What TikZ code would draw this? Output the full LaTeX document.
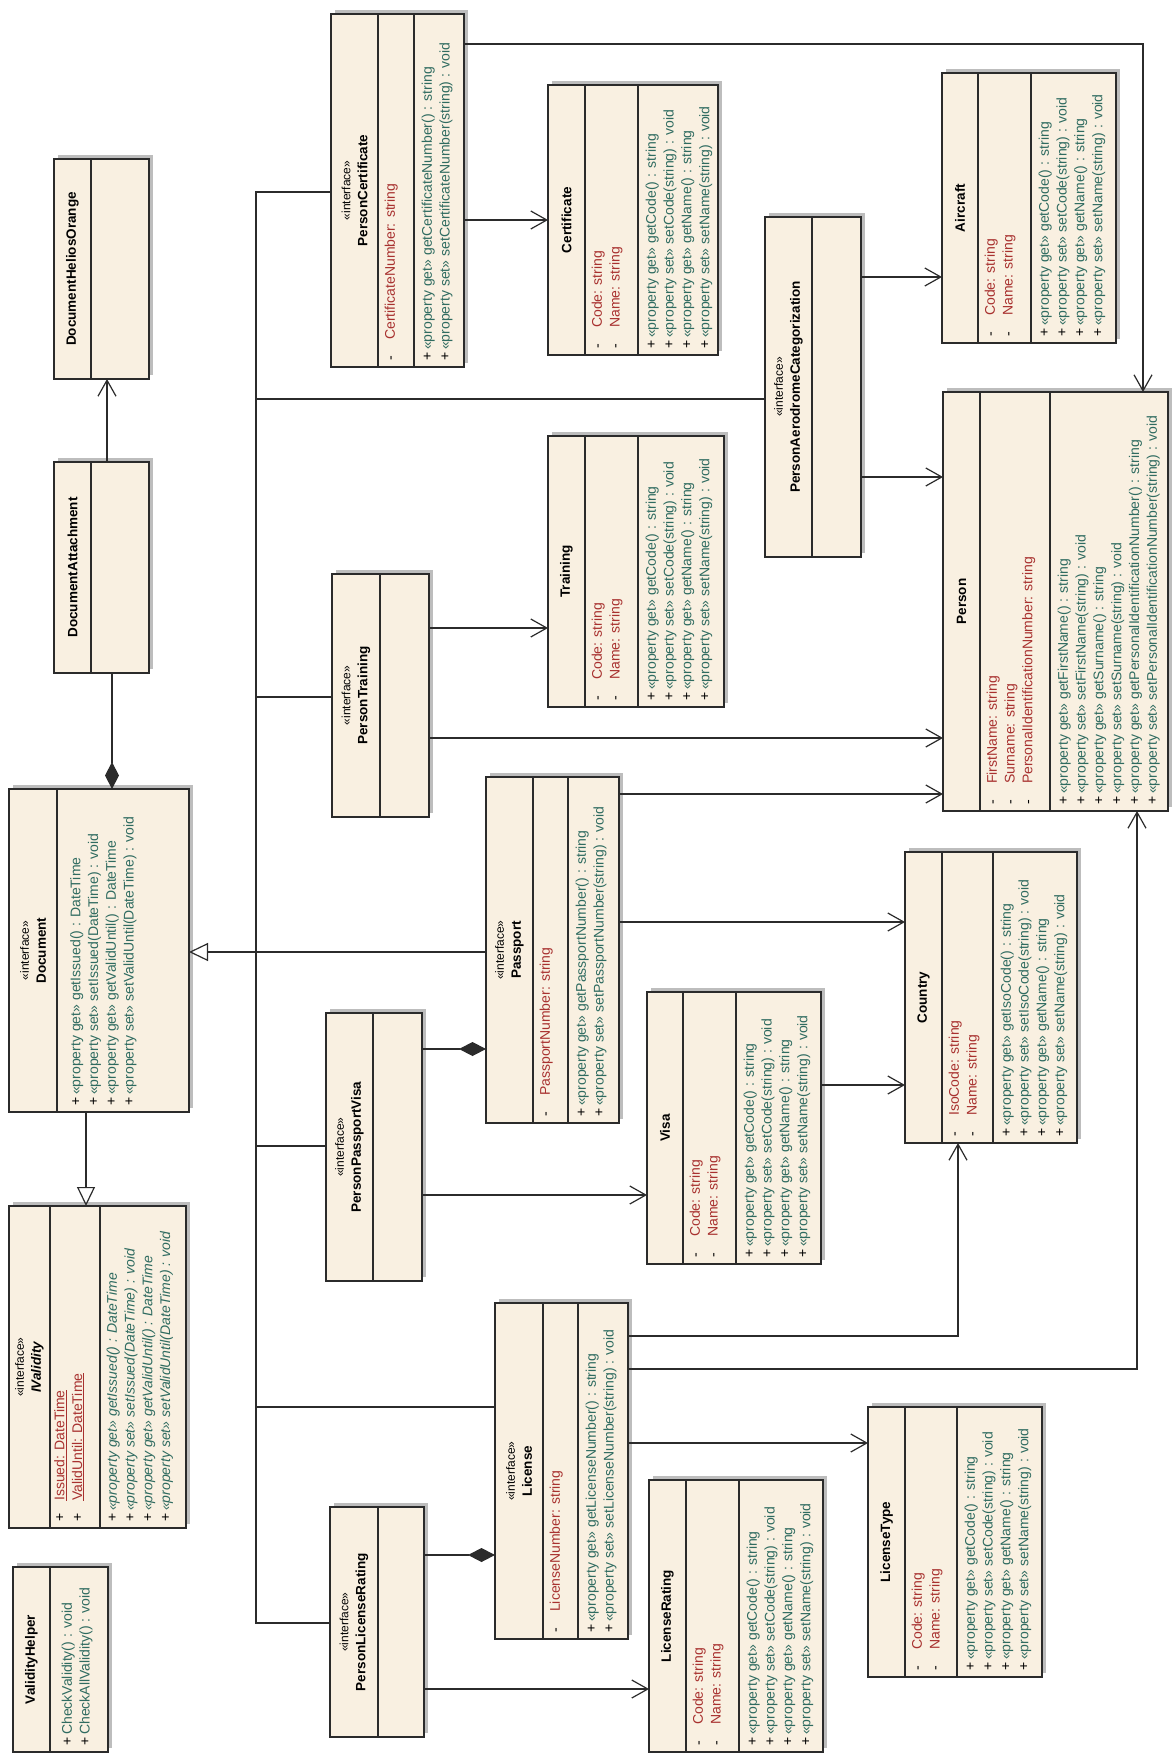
\documentclass[tikz,border=0pt]{standalone}
\usepackage{fontspec}
\setmainfont{Liberation Sans}
\usetikzlibrary{arrows.meta,shadows}
\definecolor{UMLFill}{HTML}{F9F0E1}
\definecolor{UMLLine}{HTML}{2B2B2B}
\definecolor{UMLShadow}{HTML}{BDBDBD}
\definecolor{UMLAttr}{HTML}{A8312F}
\definecolor{UMLOp}{HTML}{2F6B60}
\newcommand{\stereo}{{\fontsize{12}{17}\selectfont «interface»}}
\newcommand{\attr}[2][-]{\makebox[21pt][l]{\textcolor{black}{#1}}#2}
\newcommand{\op}[1]{\makebox[11pt][l]{\textcolor{black}{+}}#1}
\newcommand{\classbox}[5]{%
  \pgfmathsetmacro{\clsw}{#4-#2}%
  \pgfmathsetmacro{\clsh}{#5-#3}%
  \node[umlclass,minimum width=\clsw pt,minimum height=\clsh pt] (#1) at (#2,#3) {};}
\newcommand{\compline}[2]{\draw[umlborder] (#1.north -| #2,0) -- (#1.south -| #2,0);}
\tikzset{
  umlclass/.style={
    draw=UMLLine,
    fill=UMLFill,
    line width=1.3pt,
    rectangle,
    inner sep=0pt,
    outer sep=0pt,
    anchor=north west,
    drop shadow={shadow xshift=4pt,shadow yshift=4pt,fill=UMLShadow,draw=none,opacity=1}
  },
  umlborder/.style={draw=UMLLine,line width=1.3pt},
  umlhead/.style={rotate=90,align=center,inner sep=0pt,font=\fontsize{13.5}{17}\selectfont},
  umlattrs/.style={
    rotate=90,
    anchor=north west,
    align=left,
    inner sep=0pt,
    text=UMLAttr,
    font=\fontsize{14}{17.8}\selectfont
  },
  umlops/.style={umlattrs,text=UMLOp},
  umlconn/.style={draw=UMLLine,line width=1.2pt},
  umlassoc/.style={umlconn,-{Straight Barb[length=16pt,width=18pt]}},
  umlinherit/.style={umlconn,-{Triangle[length=19pt,width=18pt,fill=white]}},
  umlcompose/.style={umlconn,-{Diamond[length=27pt,width=14pt]}}
}

\begin{document}
\begin{tikzpicture}[x=1pt,y=-1pt]
  \useasboundingbox[fill=white] (0,0) rectangle (1171,1755);

  % document side
  \classbox{helios}{54}{159}{149}{379}\compline{helios}{91}
  \classbox{attach}{54}{462}{149}{673}\compline{attach}{91}
  \classbox{document}{9}{789}{189}{1112}\compline{document}{57}
  \classbox{ivalidity}{9}{1206}{186}{1528}\compline{ivalidity}{50}\compline{ivalidity}{100}
  \classbox{helper}{13}{1567}{108}{1752}\compline{helper}{50}

  % person interfaces
  \classbox{pcert}{331}{14}{464}{367}\compline{pcert}{378}\compline{pcert}{414}
  \classbox{ptrain}{332}{574}{429}{817}\compline{ptrain}{380}
  \classbox{passport}{486}{777}{619}{1123}\compline{passport}{533}\compline{passport}{568}
  \classbox{ppv}{326}{1013}{422}{1281}\compline{ppv}{373}
  \classbox{license}{495}{1303}{628}{1639}\compline{license}{543}\compline{license}{578}
  \classbox{plr}{330}{1507}{424}{1737}\compline{plr}{378}
  \classbox{aero}{765}{217}{861}{557}\compline{aero}{812}

  % plain classes
  \classbox{cert}{548}{85}{718}{355}\compline{cert}{585}\compline{cert}{638}
  \classbox{training}{548}{436}{724}{707}\compline{training}{585}\compline{training}{638}
  \classbox{visa}{647}{992}{821}{1264}\compline{visa}{683}\compline{visa}{736}
  \classbox{lrating}{649}{1480}{823}{1752}\compline{lrating}{686}\compline{lrating}{739}
  \classbox{aircraft}{942}{73}{1116}{343}\compline{aircraft}{978}\compline{aircraft}{1031}
  \classbox{person}{943}{392}{1168}{811}\compline{person}{980}\compline{person}{1050}
  \classbox{country}{905}{852}{1077}{1143}\compline{country}{942}\compline{country}{993}
  \classbox{ltype}{868}{1407}{1042}{1677}\compline{ltype}{905}\compline{ltype}{957}

  % headers
  \node[umlhead] (helios-h) at (72.5,269) {\textbf{DocumentHeliosOrange}};
  \node[umlhead] (attach-h) at (72.5,567.5) {\textbf{DocumentAttachment}};
  \node[umlhead] (document-h) at (33,950.5) {\stereo\\\textbf{Document}};
  \node[umlhead] (ivalidity-h) at (29.5,1367) {\stereo\\\textbf{\textit{IValidity}}};
  \node[umlhead] (helper-h) at (31.5,1659.5) {\textbf{ValidityHelper}};
  \node[umlhead] (pcert-h) at (354.5,190.5) {\stereo\\\textbf{PersonCertificate}};
  \node[umlhead] (ptrain-h) at (356,695.5) {\stereo\\\textbf{PersonTraining}};
  \node[umlhead] (passport-h) at (509.5,950) {\stereo\\\textbf{Passport}};
  \node[umlhead] (ppv-h) at (349.5,1147) {\stereo\\\textbf{PersonPassportVisa}};
  \node[umlhead] (license-h) at (519,1471) {\stereo\\\textbf{License}};
  \node[umlhead] (plr-h) at (354,1622) {\stereo\\\textbf{PersonLicenseRating}};
  \node[umlhead] (aero-h) at (788.5,387) {\stereo\\\textbf{PersonAerodromeCategorization}};
  \node[umlhead] (cert-h) at (566.5,220) {\textbf{Certificate}};
  \node[umlhead] (training-h) at (566.5,571.5) {\textbf{Training}};
  \node[umlhead] (visa-h) at (665,1128) {\textbf{Visa}};
  \node[umlhead] (lrating-h) at (667.5,1616) {\textbf{LicenseRating}};
  \node[umlhead] (aircraft-h) at (960,208) {\textbf{Aircraft}};
  \node[umlhead] (person-h) at (961.5,601.5) {\textbf{Person}};
  \node[umlhead] (country-h) at (923.5,997.5) {\textbf{Country}};
  \node[umlhead] (ltype-h) at (886.5,1542) {\textbf{LicenseType}};

  % attributes and operations
  \node[umlops] (document-o) at (70,1106) {\op{«property get» getIssued() : DateTime}\\\op{«property set» setIssued(DateTime) : void}\\\op{«property get» getValidUntil() : DateTime}\\\op{«property set» setValidUntil(DateTime) : void}};
  \node[umlattrs] (ivalidity-a) at (54,1522) {\attr[+]{\underline{Issued: DateTime}}\\\attr[+]{\underline{ValidUntil: DateTime}}};
  \node[umlops] (ivalidity-o) at (106.5,1522) {\op{\textit{«property get» getIssued() : DateTime}}\\\op{\textit{«property set» setIssued(DateTime) : void}}\\\op{\textit{«property get» getValidUntil() : DateTime}}\\\op{\textit{«property set» setValidUntil(DateTime) : void}}};
  \node[umlops] (helper-o) at (61.5,1746) {\op{CheckValidity() : void}\\\op{CheckAllValidity() : void}};
  \node[umlattrs] (pcert-a) at (384.5,361) {\attr{CertificateNumber: string}};
  \node[umlops] (pcert-o) at (421.5,361) {\op{«property get» getCertificateNumber() : string}\\\op{«property set» setCertificateNumber(string) : void}};
  \node[umlattrs] (passport-a) at (539.5,1117) {\attr{PassportNumber: string}};
  \node[umlops] (passport-o) at (575.5,1117) {\op{«property get» getPassportNumber() : string}\\\op{«property set» setPassportNumber(string) : void}};
  \node[umlattrs] (license-a) at (549.5,1633) {\attr{LicenseNumber: string}};
  \node[umlops] (license-o) at (585.5,1633) {\op{«property get» getLicenseNumber() : string}\\\op{«property set» setLicenseNumber(string) : void}};
  \node[umlattrs] (cert-a) at (591.5,349) {\attr{Code: string}\\\attr{Name: string}};
  \node[umlops] (cert-o) at (645.5,349) {\op{«property get» getCode() : string}\\\op{«property set» setCode(string) : void}\\\op{«property get» getName() : string}\\\op{«property set» setName(string) : void}};
  \node[umlattrs] (training-a) at (591.5,701) {\attr{Code: string}\\\attr{Name: string}};
  \node[umlops] (training-o) at (645.5,701) {\op{«property get» getCode() : string}\\\op{«property set» setCode(string) : void}\\\op{«property get» getName() : string}\\\op{«property set» setName(string) : void}};
  \node[umlattrs] (visa-a) at (689.5,1258) {\attr{Code: string}\\\attr{Name: string}};
  \node[umlops] (visa-o) at (743.5,1258) {\op{«property get» getCode() : string}\\\op{«property set» setCode(string) : void}\\\op{«property get» getName() : string}\\\op{«property set» setName(string) : void}};
  \node[umlattrs] (lrating-a) at (692.5,1746) {\attr{Code: string}\\\attr{Name: string}};
  \node[umlops] (lrating-o) at (746.5,1746) {\op{«property get» getCode() : string}\\\op{«property set» setCode(string) : void}\\\op{«property get» getName() : string}\\\op{«property set» setName(string) : void}};
  \node[umlattrs] (aircraft-a) at (984.5,337) {\attr{Code: string}\\\attr{Name: string}};
  \node[umlops] (aircraft-o) at (1038.5,337) {\op{«property get» getCode() : string}\\\op{«property set» setCode(string) : void}\\\op{«property get» getName() : string}\\\op{«property set» setName(string) : void}};
  \node[umlattrs] (person-a) at (986.5,805) {\attr{FirstName: string}\\\attr{Surname: string}\\\attr{PersonalIdentificationNumber: string}};
  \node[umlops] (person-o) at (1057.5,805) {\op{«property get» getFirstName() : string}\\\op{«property set» setFirstName(string) : void}\\\op{«property get» getSurname() : string}\\\op{«property set» setSurname(string) : void}\\\op{«property get» getPersonalIdentificationNumber() : string}\\\op{«property set» setPersonalIdentificationNumber(string) : void}};
  \node[umlattrs] (country-a) at (948.5,1137) {\attr{IsoCode: string}\\\attr{Name: string}};
  \node[umlops] (country-o) at (1000.5,1137) {\op{«property get» getIsoCode() : string}\\\op{«property set» setIsoCode(string) : void}\\\op{«property get» getName() : string}\\\op{«property set» setName(string) : void}};
  \node[umlattrs] (ltype-a) at (911.5,1671) {\attr{Code: string}\\\attr{Name: string}};
  \node[umlops] (ltype-o) at (964.5,1671) {\op{«property get» getCode() : string}\\\op{«property set» setCode(string) : void}\\\op{«property get» getName() : string}\\\op{«property set» setName(string) : void}};

  % generalization tree into Document
  \coordinate (bus) at (256,952);
  \draw[umlinherit] (passport.west |- bus) -- (document.east |- bus);
  \draw[umlconn] (pcert.west |- 0,192) -| (bus);
  \draw[umlconn] (aero.west |- 0,399) -| (bus);
  \draw[umlconn] (ptrain.west |- 0,697) -| (bus);
  \draw[umlconn] (ppv.west |- 0,1146) -| (bus);
  \draw[umlconn] (license.west |- 0,1407) -| (bus);
  \draw[umlconn] (plr.west |- 0,1623) -| (bus);
  \draw[umlinherit] (document.south -| 86,0) -- (ivalidity.north -| 86,0);

  % compositions
  \draw[umlcompose] (attach.south -| 112,0) -- (document.north -| 112,0);
  \draw[umlcompose] (ppv.east |- 0,1049) -- (passport.west |- 0,1049);
  \draw[umlcompose] (plr.east |- 0,1555) -- (license.west |- 0,1555);

  % associations
  \draw[umlassoc] (attach.north -| 107,0) -- (helios.south -| 107,0);
  \draw[umlassoc] (pcert.east |- 0,220) -- (cert.west |- 0,220);
  \draw[umlassoc] (pcert.east |- 0,44) -| (person.north -| 1143,0);
  \draw[umlassoc] (aero.east |- 0,277) -- (aircraft.west |- 0,277);
  \draw[umlassoc] (aero.east |- 0,477) -- (person.west |- 0,477);
  \draw[umlassoc] (ptrain.east |- 0,628) -- (training.west |- 0,628);
  \draw[umlassoc] (ptrain.east |- 0,738) -- (person.west |- 0,738);
  \draw[umlassoc] (passport.east |- 0,794) -- (person.west |- 0,794);
  \draw[umlassoc] (passport.east |- 0,922) -- (country.west |- 0,922);
  \draw[umlassoc] (visa.east |- 0,1085) -- (country.west |- 0,1085);
  \draw[umlassoc] (ppv.east |- 0,1195) -- (visa.west |- 0,1195);
  \draw[umlassoc] (license.east |- 0,1336) -| (country.south -| 958,0);
  \draw[umlassoc] (license.east |- 0,1369) -| (person.south -| 1137,0);
  \draw[umlassoc] (license.east |- 0,1443) -- (ltype.west |- 0,1443);
  \draw[umlassoc] (plr.east |- 0,1689) -- (lrating.west |- 0,1689);
\end{tikzpicture}
\end{document}
